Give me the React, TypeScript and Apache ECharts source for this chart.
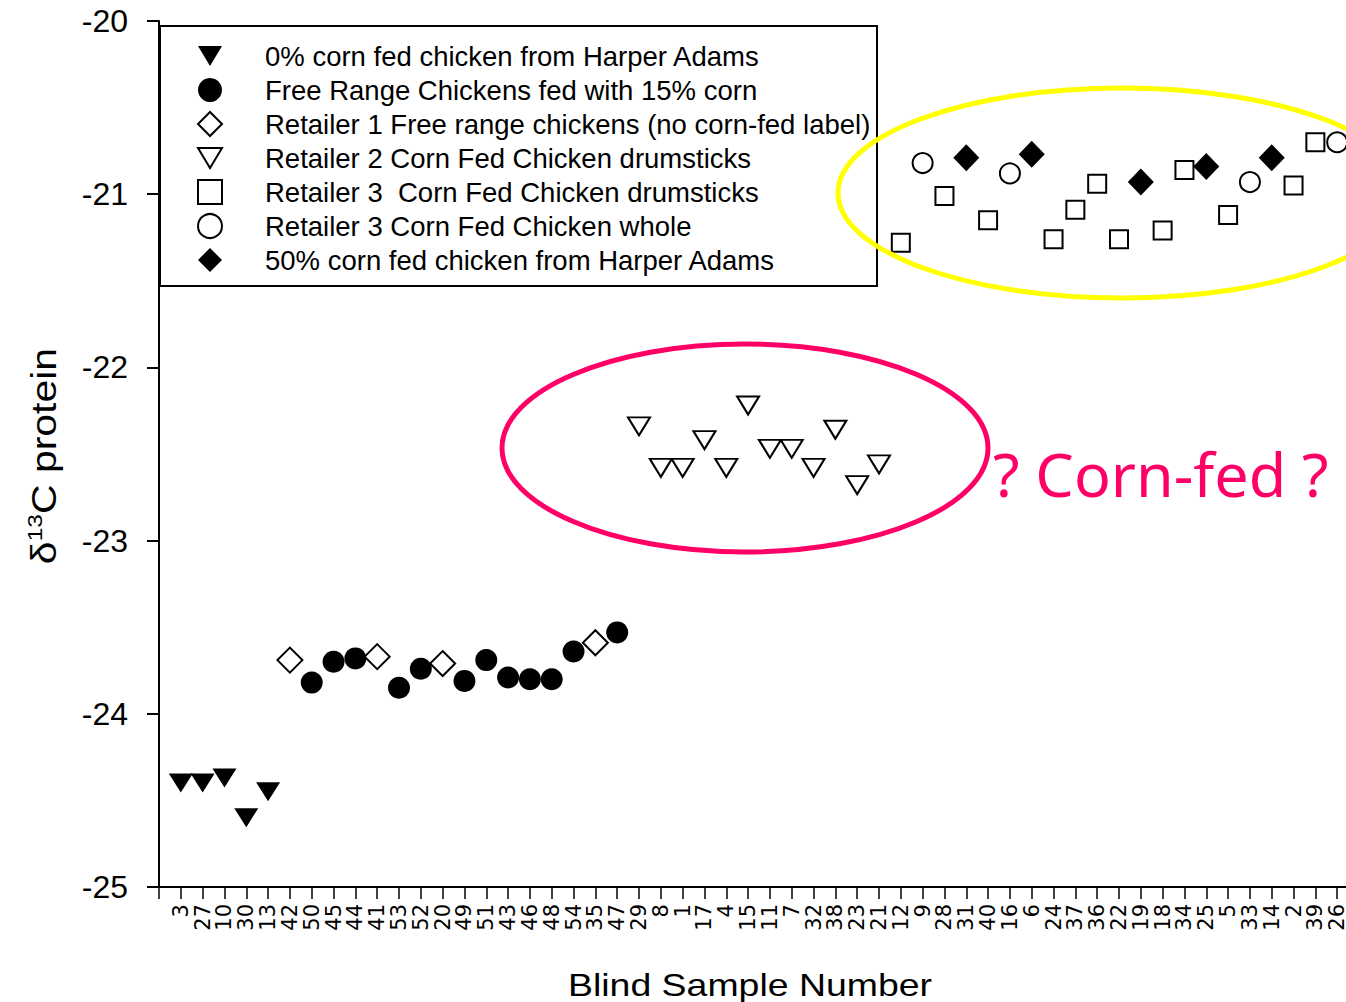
import React, { useEffect, useRef } from "react";
import * as echarts from "echarts";

// Blind sample numbers along the x axis (left to right)
const sampleLabels = [
  "3", "27", "10", "30", "13", "42", "50", "45", "44", "41", "53", "52", "20", "49", "51", "43", "46", "48",
  "54", "35", "47", "29", "8", "1", "17", "4", "15", "11", "7", "32", "38", "23", "21", "12", "9", "28",
  "31", "40", "16", "6", "24", "37", "36", "22", "19", "18", "34", "25", "5", "33", "14", "2", "39", "26",
];

// δ13C protein value of each sample, same order as sampleLabels
const deltaC13 = [
  -24.40, -24.40, -24.37, -24.60, -24.45, -23.69, -23.82, -23.70, -23.68, -23.67, -23.85, -23.74,
  -23.71, -23.81, -23.69, -23.79, -23.80, -23.80, -23.64, -23.59, -23.53, -22.34, -22.58, -22.58,
  -22.42, -22.58, -22.22, -22.47, -22.47, -22.58, -22.36, -22.68, -22.56, -21.28, -20.82, -21.01,
  -20.79, -21.15, -20.88, -20.77, -21.26, -21.09, -20.94, -21.26, -20.93, -21.21, -20.86, -20.84,
  -21.12, -20.93, -20.79, -20.95, -20.70, -20.70,
];

// Group (series index) of each sample, same order as sampleLabels
const sampleGroup = [
  0, 0, 0, 0, 0, 2, 1, 1, 1, 2, 1, 1, 2, 1, 1, 1, 1, 1, 1, 2, 1,
  3, 3, 3, 3, 3, 3, 3, 3, 3, 3, 3, 3,
  4, 5, 4, 6, 4, 5, 6, 4, 4, 4, 4, 6, 4, 4, 6, 4, 5, 6, 4, 4, 5,
];

const seriesNames = [
  "0% corn fed chicken from Harper Adams",
  "Free Range Chickens fed with 15% corn",
  "Retailer 1 Free range chickens (no corn-fed label)",
  "Retailer 2 Corn Fed Chicken drumsticks",
  "Retailer 3  Corn Fed Chicken drumsticks",
  "Retailer 3 Corn Fed Chicken whole",
  "50% corn fed chicken from Harper Adams",
];

const yTicks = [-25, -24, -23, -22, -21, -20];

const DOWN_TRI = "path://M0 0L24 0L12 20Z";

const seriesLook = [
  { symbol: "triangle", size: [24, 19], rotate: 180, fill: "#000", border: 0, icon: DOWN_TRI },
  { symbol: "circle", size: 22, rotate: 0, fill: "#000", border: 0, icon: "circle" },
  { symbol: "diamond", size: [25, 25], rotate: 0, fill: "#fff", border: 2, icon: "diamond" },
  { symbol: "triangle", size: [22, 18], rotate: 180, fill: "#fff", border: 2, icon: DOWN_TRI },
  { symbol: "rect", size: 18, rotate: 0, fill: "#fff", border: 2, icon: "rect" },
  { symbol: "circle", size: 20, rotate: 0, fill: "#fff", border: 2, icon: "circle" },
  { symbol: "diamond", size: [26, 27], rotate: 0, fill: "#000", border: 0, icon: "diamond" },
];

const ARIAL = "'Liberation Sans', Arial, sans-serif";

export default function App() {
  const ref = useRef<HTMLDivElement>(null);

  useEffect(() => {
    if (!ref.current) return;
    const chart = echarts.init(ref.current, null, { renderer: "svg" });

    const series = seriesNames.map((name, g) => {
      const look = seriesLook[g];
      const data: number[][] = [];
      deltaC13.forEach((v, i) => {
        if (sampleGroup[i] === g) data.push([i + 1, v]);
      });
      return {
        type: "scatter",
        name,
        data,
        symbol: look.symbol,
        symbolSize: look.size,
        symbolRotate: look.rotate,
        z: 5,
        itemStyle: {
          color: look.fill,
          borderColor: "#000",
          borderWidth: look.border,
          opacity: 1,
        },
        emphasis: { disabled: true },
      };
    });

    const option: any = {
      animation: false,
      backgroundColor: "#fff",
      grid: { left: 159, top: 21, right: -13, bottom: 115, outerBoundsMode: "none", containLabel: false },
      xAxis: {
        type: "value",
        min: 0,
        max: 55,
        interval: 1,
        splitLine: { show: false },
        axisLine: { show: true, onZero: false, lineStyle: { color: "#000", width: 2 } },
        axisTick: { show: true, length: 12, lineStyle: { color: "#000", width: 1.5 } },
        axisLabel: {
          rotate: 90,
          margin: 17,
          fontFamily: "'DejaVu Sans', sans-serif",
          fontSize: 21,
          color: "#000",
          showMinLabel: true,
          showMaxLabel: true,
          formatter: (v: number) => {
            const i = Math.round(v);
            return i >= 1 && i <= sampleLabels.length ? sampleLabels[i - 1] : "";
          },
        },
      },
      yAxis: {
        type: "value",
        min: yTicks[0],
        max: yTicks[yTicks.length - 1],
        interval: 1,
        splitLine: { show: false },
        axisLine: { show: true, onZero: false, lineStyle: { color: "#000", width: 2 } },
        axisTick: { show: true, length: 12, lineStyle: { color: "#000", width: 2 } },
        axisLabel: {
          margin: 31,
          fontFamily: ARIAL,
          fontSize: 32,
          color: "#000",
        },
      },
      legend: {
        orient: "vertical",
        left: 197,
        top: 42,
        padding: 0,
        itemWidth: 24,
        itemHeight: 24,
        itemGap: 6,
        selectedMode: false,
        z: 10,
        textStyle: {
          fontFamily: ARIAL,
          fontSize: 27.5,
          color: "#000",
          padding: [0, 0, 0, 38],
        },
        data: seriesNames.map((name, g) => ({ name, icon: seriesLook[g].icon })),
      },
      graphic: [
        {
          type: "rect",
          z: 9,
          shape: { x: 160, y: 26, width: 717, height: 260 },
          style: { fill: "#fff", stroke: "#000", lineWidth: 2 },
        },
        {
          type: "ellipse",
          z: 20,
          shape: { cx: 1122, cy: 193, rx: 284, ry: 105 },
          style: { fill: "none", stroke: "#ffff00", lineWidth: 5 },
        },
        {
          type: "ellipse",
          z: 20,
          shape: { cx: 745, cy: 448, rx: 243, ry: 104 },
          style: { fill: "none", stroke: "#ff0066", lineWidth: 5 },
        },
        {
          type: "text",
          z: 20,
          x: 993,
          y: 473,
          style: {
            text: "? Corn-fed ?",
            fontFamily: "'Noto Sans', sans-serif",
            fontSize: 61,
            fill: "#ff0066",
            align: "left",
            verticalAlign: "middle",
          },
        },
        {
          type: "text",
          z: 10,
          x: 750,
          y: 985,
          scaleX: 1.17,
          style: {
            text: "Blind Sample Number",
            fontFamily: ARIAL,
            fontSize: 32,
            fill: "#000",
            align: "center",
            verticalAlign: "middle",
          },
        },
        {
          type: "text",
          z: 10,
          x: 44,
          y: 456,
          rotation: Math.PI / 2,
          scaleX: 1.17,
          style: {
            text: "{d|δ}{s|13}{n|C protein}",
            align: "center",
            verticalAlign: "middle",
            fill: "#000",
            rich: {
              d: { fontFamily: ARIAL, fontSize: 35, lineHeight: 40, fill: "#000" },
              s: { fontFamily: ARIAL, fontSize: 21, lineHeight: 21, verticalAlign: "top", fill: "#000" },
              n: { fontFamily: ARIAL, fontSize: 35, lineHeight: 40, fill: "#000" },
            },
          },
        },
      ],
      series,
    };

    chart.setOption(option);
    return () => chart.dispose();
  }, []);

  return (
    <div
      ref={ref}
      style={{ position: "fixed", left: 0, top: 0, width: 1346, height: 1002, background: "#fff" }}
    />
  );
}
